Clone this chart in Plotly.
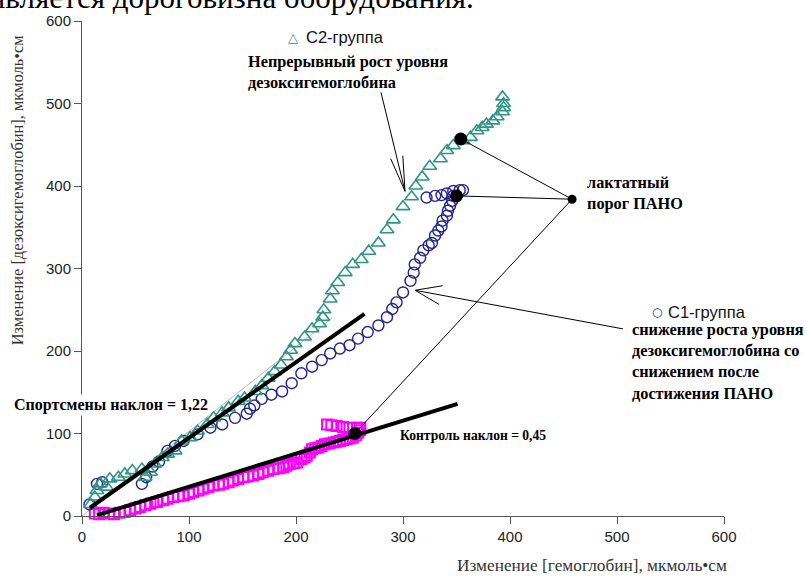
import math
import plotly.graph_objects as go

# ---- data -------------------------------------------------------------
# C2 group (triangles)
c2_x = [8, 12, 14, 17, 23, 26, 34, 40, 47, 56, 59, 64, 68, 75, 80, 87, 93, 101, 108, 117,
        123, 131, 137, 146, 152, 162, 168, 174, 180, 186, 191, 195, 199, 208, 215, 222, 225,
        226, 232, 234, 239, 246, 253, 261, 268, 277, 285, 291, 300, 308, 312, 318, 325, 335,
        341, 347, 356, 363, 369, 374, 378, 384, 388, 393, 394, 394, 393]
c2_y = [14, 23, 31, 39, 35, 45, 47, 51, 55, 57, 47, 53, 63, 71, 75, 79, 91, 95, 103, 111,
        119, 125, 131, 139, 143, 151, 158, 167, 175, 183, 193, 201, 209, 217, 227, 233, 241,
        250, 263, 273, 283, 295, 305, 311, 321, 331, 347, 359, 375, 387, 400, 411, 424, 433,
        443, 449, 455, 459, 467, 471, 475, 479, 484, 490, 495, 500, 508]

# C1 group (circles)
c1_x = [7, 14, 19, 56, 60, 66, 72, 80, 87, 95, 108, 120, 131, 143, 154, 157, 161, 168,
        177, 187, 196, 205, 215, 224, 232, 241, 250, 258, 267, 277, 285, 290, 294, 300,
        307, 310, 311, 316, 319, 324, 327, 330, 333, 336, 337, 341, 342, 344, 346, 347,
        322, 330, 336, 341, 347, 353, 356]
c1_y = [14, 39, 41, 39, 47, 60, 66, 79, 85, 91, 99, 107, 111, 119, 124, 130, 134, 142,
        147, 151, 161, 173, 181, 189, 197, 203, 207, 215, 223, 231, 241, 251, 259, 271,
        285, 295, 305, 313, 322, 328, 331, 340, 346, 351, 358, 364, 370, 376, 382, 388,
        386, 388, 389, 391, 394, 395, 395]

# Control group (squares)
ctl_x = [12, 16, 20, 25, 30, 35, 40, 45, 50, 54, 59, 64, 70, 76, 80, 85, 90, 95, 100, 104,
         109, 113, 118, 123, 128, 132, 137, 141, 146, 151, 155, 160, 165, 169, 174, 179,
         184, 188, 191, 194, 198, 201, 205, 208, 210, 213, 215, 218, 221, 224, 227, 231,
         235, 238, 241, 244, 247, 250, 253, 256, 258, 260, 260, 257, 250, 244, 238, 233, 229]
ctl_y = [3, 2, 4, 3, 2, 4, 5, 7, 9, 11, 13, 15, 17, 19, 21, 23, 24, 25, 27, 29,
         31, 33, 35, 37, 38, 39, 41, 43, 45, 47, 48, 49, 51, 53, 55, 57,
         58, 59, 61, 63, 64, 65, 69, 71, 73, 77, 81, 82, 83, 85, 87, 88,
         89, 90, 91, 92, 93, 94, 95, 98, 101, 104, 107, 107, 107, 108, 109, 110, 111]

# Lactate threshold points (C2, C1, control) and the label anchor
thr_x = [354, 350, 255]
thr_y = [457, 388, 100]
lbl_x, lbl_y = 458, 384

# Regression lines: athletes and control
ath_x = [7.5, 264]
ath_y = [10, 245]
ctl_fit_x = [14, 351]
ctl_fit_y = [1, 136]

# faint reference line through the origin
ref_x = [0, 234]
ref_y = [0, 240]

ticks = [0, 100, 200, 300, 400, 500, 600]

# ---- layout geometry --------------------------------------------------
W, H = 807, 576
ML, MR, MT, MB = 82, 83, 16, 60
X_MAX = Y_MAX = 600
PW, PH = W - ML - MR, H - MT - MB
SX = PW / X_MAX
SY = PH / Y_MAX

TEAL = "#2f9585"
NAVY = "#23238f"
MAGENTA = "#ff00ff"
SERIF = "Liberation Serif, Times New Roman, serif"
SANS = "Liberation Sans, Arial, sans-serif"

fig = go.Figure()

fig.add_trace(go.Scatter(x=ref_x, y=ref_y, mode="lines",
                         line=dict(color="#b5b5b5", width=1), hoverinfo="skip"))

fig.add_trace(go.Scatter(x=ctl_x, y=ctl_y, mode="markers", cliponaxis=False,
                         marker=dict(symbol="square-open", size=10, color=MAGENTA,
                                     line=dict(width=2, color=MAGENTA))))
fig.add_trace(go.Scatter(x=c1_x, y=c1_y, mode="markers", cliponaxis=False,
                         marker=dict(symbol="circle-open", size=11, color=NAVY,
                                     line=dict(width=1.4, color=NAVY))))
fig.add_trace(go.Scatter(x=c2_x, y=c2_y, mode="markers", cliponaxis=False,
                         marker=dict(symbol="triangle-up-open", size=12, color=TEAL,
                                     line=dict(width=1.6, color=TEAL))))

fig.add_trace(go.Scatter(x=ath_x, y=ath_y, mode="lines",
                         line=dict(color="black", width=4)))
fig.add_trace(go.Scatter(x=ctl_fit_x, y=ctl_fit_y, mode="lines",
                         line=dict(color="black", width=4)))

# connector lines from the threshold label to each threshold point
for tx, ty in zip(thr_x, thr_y):
    fig.add_shape(type="line", x0=lbl_x, y0=lbl_y, x1=tx, y1=ty,
                  line=dict(color="black", width=1), layer="above")

fig.add_trace(go.Scatter(x=thr_x, y=thr_y, mode="markers", cliponaxis=False,
                         marker=dict(size=13, color="black")))
fig.add_trace(go.Scatter(x=[lbl_x], y=[lbl_y], mode="markers", cliponaxis=False,
                         marker=dict(size=9, color="black")))


def arrow(tail, tip, barb_px, spread_deg):
    """Thin arrow with an open two-stroke head, drawn as shapes."""
    fig.add_shape(type="line", x0=tail[0], y0=tail[1], x1=tip[0], y1=tip[1],
                  line=dict(color="black", width=1), layer="above")
    dx = (tail[0] - tip[0]) * SX
    dy = (tail[1] - tip[1]) * SY
    base = math.atan2(dy, dx)
    for s in (-1, 1):
        a = base + s * math.radians(spread_deg)
        ex = tip[0] + barb_px * math.cos(a) / SX
        ey = tip[1] + barb_px * math.sin(a) / SY
        fig.add_shape(type="line", x0=tip[0], y0=tip[1], x1=ex, y1=ey,
                      line=dict(color="black", width=1), layer="above")


arrow((279.4, 513.6), (301.9, 393.6), 36, 10)
arrow((505.6, 226.8), (311.2, 273.6), 28, 20)


def note(x, y, text, size=15, family=SERIF, bold=True, color="black", xref="x", **kw):
    t = f"<b>{text}</b>" if bold else text
    fig.add_annotation(x=x, y=y, xref=xref, yref="y", text=t, showarrow=False,
                       xanchor=kw.pop("xanchor", "left"), yanchor=kw.pop("yanchor", "middle"),
                       align="left", font=dict(family=family, size=size, color=color), **kw)


note(153.3, 537.6, "Непрерывный рост уровня<br>дезоксигемоглобина", size=16.3)
note(470, 391.8, "лактатный<br>порог ПАНО", size=16.3)
note(512, 187.8, "снижение роста уровня<br>дезоксигемоглобина со<br>снижением после<br>достижения ПАНО",
     size=16.3)
note((12 - ML) / PW, 134.4, "Спортсмены наклон = 1,22", size=16, xref="paper",
     bgcolor="white")
note(295.3, 97.2, "Контроль наклон = 0,45", size=13.6)

# group keys
note(197.2, 580.5, "△", size=13, family="DejaVu Sans", bold=False, color=TEAL, xanchor="center")
note(207.4, 580.5, "C2-группа", size=16.5, family=SANS, bold=False, color="#111")
note(537.4, 247.2, "○", size=12, family="DejaVu Sans", bold=False, color=NAVY, xanchor="center")
note(545.8, 247.2, "C1-группа", size=16.5, family=SANS, bold=False, color="#111")

# axis titles
fig.add_annotation(xref="paper", yref="paper", x=(591.5 - ML) / PW,
                   y=(516 - 566) / PH, text="Изменение [гемоглобин], мкмоль•см",
                   showarrow=False, xanchor="center", yanchor="middle",
                   font=dict(family=SERIF, size=17.3, color="#333"))
fig.add_annotation(xref="paper", yref="paper", x=(17 - ML) / PW,
                   y=(516 - 187) / PH, text="Изменение [дезоксигемоглобин], мкмоль•см",
                   showarrow=False, textangle=-90, xanchor="center", yanchor="middle",
                   font=dict(family=SERIF, size=16.4, color="#333"))

# running text of the surrounding page, cut by the top edge
fig.add_annotation(xref="paper", yref="paper", x=(476 - ML) / PW,
                   y=(516 - 12) / PH, text="является дороговизна оборудования.",
                   showarrow=False, xanchor="right", yanchor="bottom",
                   font=dict(family=SERIF, size=31, color="black"))

axis_common = dict(range=[0, X_MAX], tickvals=ticks, showgrid=False, zeroline=False,
                   showline=True, linecolor="#555", linewidth=1, ticks="outside",
                   ticklen=7, tickcolor="#555", tickwidth=1,
                   tickfont=dict(family=SANS, size=15, color="#222"))
fig.update_layout(
    width=W, height=H, margin=dict(l=ML, r=MR, t=MT, b=MB),
    paper_bgcolor="white", plot_bgcolor="white", showlegend=False,
    xaxis=axis_common, yaxis=dict(axis_common, range=[0, Y_MAX]),
)

fig.write_html("out.html")
